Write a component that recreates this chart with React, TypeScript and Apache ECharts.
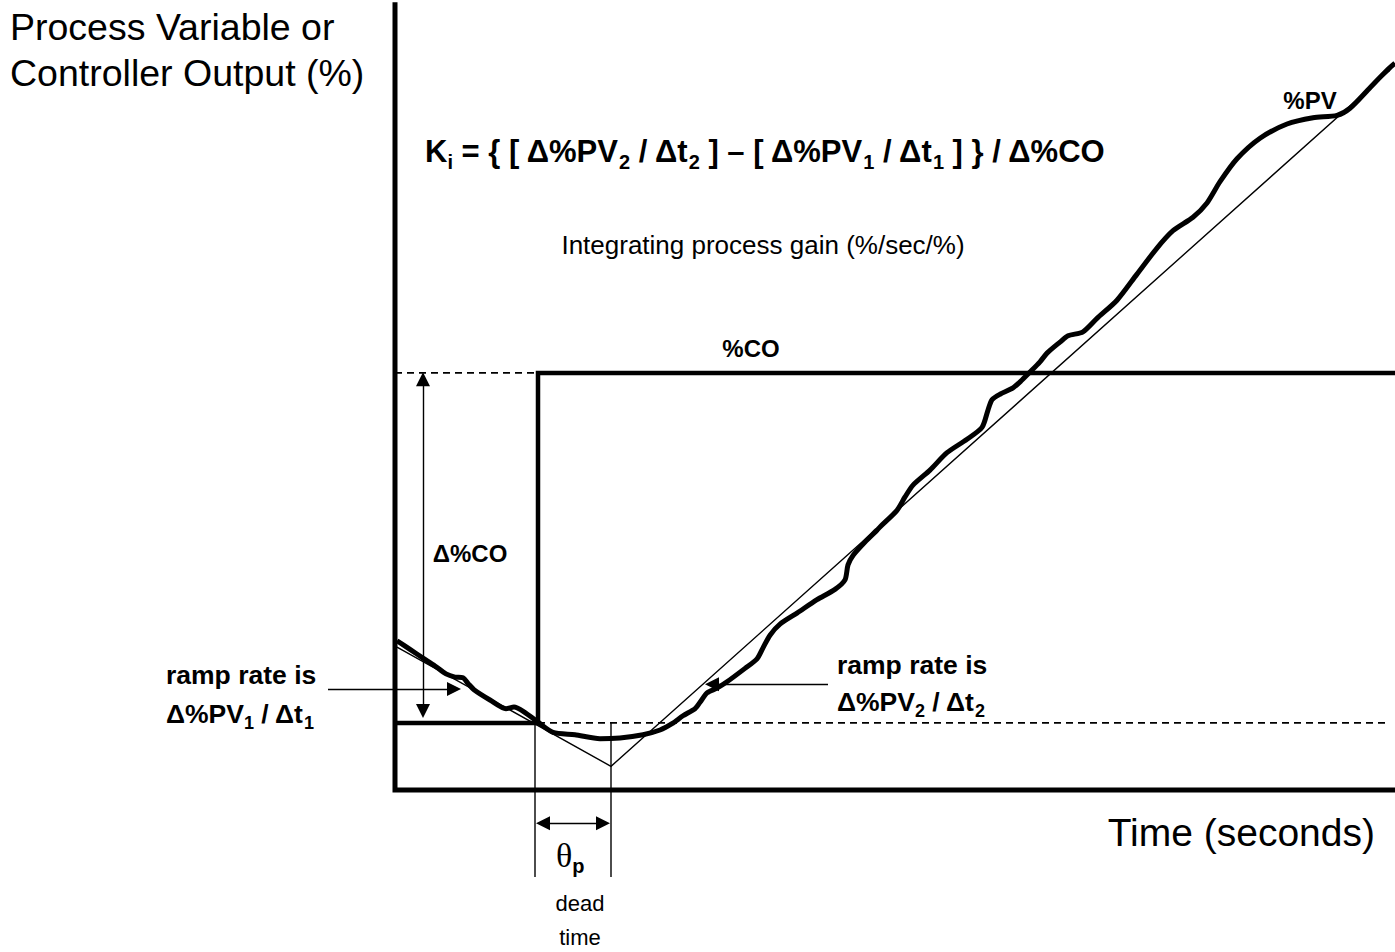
import React, { useEffect, useRef } from "react";
import * as echarts from "echarts";

// ---- data (x: time in seconds, y: percent) ----
const axisFrameX = [0, 0, 100];
const axisFrameY = [99.7, 0, 0];

const coTime = [0, 14.3, 14.3, 100];
const coValue = [8.5, 8.5, 52.8, 52.8];

const pvTime = [
  0.2, 1.5, 2.8, 4.0, 5.1, 6.0, 6.8, 7.3, 7.9, 9.5, 11.1, 11.9, 12.9, 14.3, 15.8, 18.0, 20.5, 22.5,
  24.8, 26.5, 27.7, 28.8, 30.0, 30.5, 31.2, 32.2, 33.2, 35.0, 36.2, 36.8, 37.5, 38.5, 40.2, 42.2,
  44.0, 45.0, 45.3, 45.8, 47.0, 48.2, 48.5, 50.2, 51.0, 51.8, 53.5, 55.2, 57.2, 58.7, 59.3, 59.7,
  60.5, 61.8, 62.7, 63.5, 64.5, 65.2, 66.5, 67.3, 68.8, 70.2, 72.2, 74.2, 76.2, 77.8, 79.8, 81.2,
  82.5, 84.2, 86.5, 89.2, 91.8, 94.2, 95.5, 97.5, 99.2, 100,
];
const pvValue = [
  18.9, 17.8, 16.7, 15.7, 14.7, 14.3, 14.2, 13.5, 12.7, 11.4, 10.3, 10.5, 9.9, 8.6, 7.3, 7.0, 6.5, 6.6,
  7.0, 7.6, 8.4, 9.4, 10.3, 11.1, 12.3, 12.9, 13.7, 15.4, 16.6, 18.0, 19.6, 21.0, 22.4, 24.1,
  25.4, 26.6, 28.5, 29.7, 31.4, 32.9, 33.3, 35.4, 37.1, 38.6, 40.5, 42.7, 44.4, 45.9, 48.1, 49.4,
  50.1, 50.9, 51.9, 52.9, 54.2, 55.3, 56.7, 57.5, 58.0, 59.7, 62.0, 65.3, 68.6, 70.8, 72.5, 74.3,
  77.0, 79.9, 82.5, 84.3, 85.1, 85.4, 86.3, 88.9, 91.1, 92.0,
];

const tangentTime = [0.2, 21.6, 99.5];
const tangentValue = [18.1, 3.0, 91.1];

const upperRefTime = [0, 14.3];
const upperRefValue = [52.8, 52.8];
const lowerRefTime = [14.3, 99.5];
const lowerRefValue = [8.5, 8.5];

const deadStart = 14.0;
const deadEnd = 21.6;

// ---- view ----
const X_MIN = -39.5;
const X_MAX = 100;
const Y_MIN = -20.5;
const Y_MAX = 100;

const SANS = "'Liberation Sans', Arial, Helvetica, sans-serif";
const SERIF = "'Liberation Serif', 'Times New Roman', serif";

const zip = (xs: number[], ys: number[]) => xs.map((x, i) => [x, ys[i]]);

function sub(fs: number, lineH: number, shift: number) {
  return {
    fontSize: fs,
    fontWeight: "bold" as const,
    fontFamily: SANS,
    fill: "#000",
    verticalAlign: "bottom" as const,
    height: 2 * (lineH / 2 - shift),
  };
}

function txt(x: number, y: number, text: string, fontSize: number, opts: any = {}) {
  const lineHeight = opts.lineHeight ?? Math.round(fontSize * 1.2);
  return {
    type: "text",
    x,
    y,
    silent: true,
    style: {
      text,
      fontSize,
      fontFamily: SANS,
      fontWeight: opts.bold ? "bold" : "normal",
      fill: "#000",
      align: opts.align || "left",
      verticalAlign: "middle",
      lineHeight,
      rich: opts.rich,
    },
  };
}

export default function App() {
  const ref = useRef<HTMLDivElement>(null);

  useEffect(() => {
    if (!ref.current) return;
    const chart = echarts.init(ref.current, null, { renderer: "svg" });

    const black = "#000";
    const plain = (name: string, data: number[][], width: number, extra: any = {}) => ({
      type: "line",
      name,
      data,
      symbol: "none",
      silent: true,
      z: extra.z ?? 2,
      smooth: extra.smooth ?? false,
      lineStyle: { color: black, width, type: extra.dash ?? "solid", cap: "butt", join: "miter" },
      markLine: extra.markLine,
    });

    const formulaRich = { s: sub(20, 38, 11) };
    const rampRich = { s: sub(18, 32, 8.5) };

    const option: any = {
      animation: false,
      grid: { left: 0, right: 0, top: 0, bottom: 0, containLabel: false },
      xAxis: { type: "value", min: X_MIN, max: X_MAX, show: false },
      yAxis: { type: "value", min: Y_MIN, max: Y_MAX, show: false },
      series: [
        plain("axes", zip(axisFrameX, axisFrameY), 5, { z: 3 }),
        plain("%CO", zip(coTime, coValue), 4.5, { z: 4 }),
        plain("upperRef", zip(upperRefTime, upperRefValue), 1.6, { dash: [7, 5] }),
        plain("lowerRef", zip(lowerRefTime, lowerRefValue), 1.6, { dash: [7, 5] }),
        plain("deadStart", [[deadStart, 8.5], [deadStart, -11]], 1.4),
        plain("deadEnd", [[deadEnd, 8.5], [deadEnd, -11]], 1.4),
        plain("tangent", zip(tangentTime, tangentValue), 1.4, {
          markLine: {
            silent: true,
            symbol: ["triangle", "triangle"],
            symbolSize: 14,
            label: { show: false },
            emphasis: { disabled: true },
            lineStyle: { type: "solid", color: black, width: 1.4 },
            data: [
              [{ coord: [2.8, 52.0] }, { coord: [2.8, 10.0] }],
              [{ coord: [14.8, -4.2] }, { coord: [20.8, -4.2] }],
              [{ coord: [-6.7, 12.8], symbol: "none" }, { coord: [5.9, 12.8] }],
              [{ coord: [43.3, 13.4], symbol: "none" }, { coord: [31.7, 13.4] }],
            ],
          },
        }),
        plain("%PV", zip(pvTime, pvValue), 5, { z: 5, smooth: 0.25 }),
      ],
      graphic: [
        txt(10, 27, "Process Variable or", 37.5),
        txt(10, 73, "Controller Output (%)", 37.5),
        txt(1375, 832, "Time (seconds)", 39, { align: "right" }),
        txt(425, 151, "K{s|i} = { [ Δ%PV{s|2} / Δt{s|2} ] – [ Δ%PV{s|1} / Δt{s|1} ] } / Δ%CO", 31, {
          bold: true,
          lineHeight: 38,
          rich: formulaRich,
        }),
        txt(763, 245, "Integrating process gain (%/sec/%)", 26, { align: "center" }),
        txt(751, 348, "%CO", 24, { bold: true, align: "center" }),
        txt(1310, 100, "%PV", 24, { bold: true, align: "center" }),
        txt(470, 553, "Δ%CO", 24, { bold: true, align: "center" }),
        txt(166, 675, "ramp rate is", 26.5, { bold: true }),
        txt(166, 714, "Δ%PV{s|1} / Δt{s|1}", 26.5, { bold: true, lineHeight: 32, rich: rampRich }),
        txt(837, 665, "ramp rate is", 26.5, { bold: true }),
        txt(837, 702, "Δ%PV{s|2} / Δt{s|2}", 26.5, { bold: true, lineHeight: 32, rich: rampRich }),
        {
          type: "text",
          x: 556,
          y: 855,
          silent: true,
          style: {
            text: "θ{s|p}",
            fontSize: 34,
            fontFamily: SERIF,
            fill: "#000",
            align: "left",
            verticalAlign: "middle",
            lineHeight: 40,
            rich: { s: sub(20, 40, 11) },
          },
        },
        txt(580, 903, "dead", 22, { align: "center" }),
        txt(580, 937, "time", 22, { align: "center" }),
      ],
    };

    chart.setOption(option);
    return () => chart.dispose();
  }, []);

  return (
    <div
      ref={ref}
      style={{ position: "fixed", left: 0, top: 0, width: 1395, height: 952, background: "#fff" }}
    />
  );
}
